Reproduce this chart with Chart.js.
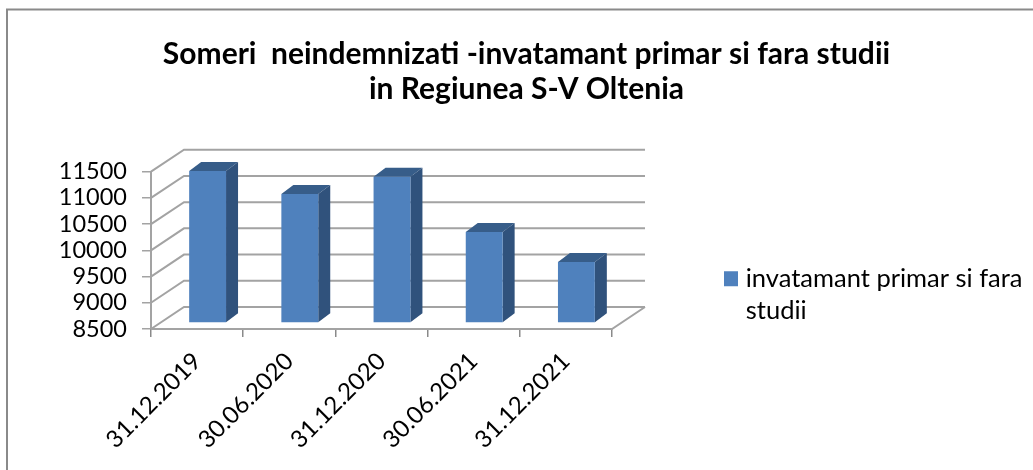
<!DOCTYPE html>
<html><head><meta charset="utf-8">
<style>html,body{margin:0;padding:0;background:#fff;overflow:hidden}
#wrap{position:absolute;left:0;top:0;width:1033px;height:470px}
canvas{display:block;filter:blur(0.45px)}</style>
<script src="https://cdn.jsdelivr.net/npm/chart.js@4/dist/chart.umd.min.js"></script>
</head><body><div id="wrap"><canvas id="c" width="1033" height="470"></canvas></div>
<script>
const categories = ['31.12.2019','30.06.2020','31.12.2020','30.06.2021','31.12.2021'];
const seriesValues = [11400,10958,11287,10236,9665];
const seriesName = ['invatamant primar si fara','studii'];
const titleLines = ['Someri  neindemnizati -invatamant primar si fara studii','in Regiunea S-V Oltenia'];
const yMin = 8500, yMax = 11500, yStep = 500;

const FONT = 'Lato';
const WALL = {dx:33, dy:-22};
const BAR = {dx:12, dy:-9, fx:10.5, fy:-6};
const GRID = '#a3a3a3';

const threeD = {
  id:'threeD',
  beforeLayout(chart){
    const lg = chart.legend;
    if(lg && !lg._patched){
      const f = lg.fit;
      lg.fit = function(){ f.call(this); this.width = 421; };
      lg._patched = true;
    }
  },
  afterLayout(chart){
    const lg = chart.legend;
    lg.left = 724; lg.right = 1033; lg.top = 262; lg.bottom = 335;
    lg.width = 309; lg.height = 73;
    const tb = chart.titleBlock;
    tb.left += 10; tb.right += 10;
  },
  beforeDatasetsDraw(chart){
    const {ctx, scales:{x,y}} = chart;
    const a = chart.chartArea;
    ctx.save();
    ctx.lineCap='butt';
    ctx.strokeStyle = GRID; ctx.lineWidth = 2;
    y.ticks.forEach(t=>{
      const p = y.getPixelForValue(t.value);
      ctx.beginPath();
      ctx.moveTo(a.left, p);
      ctx.lineTo(a.left+WALL.dx, p+WALL.dy);
      ctx.lineTo(a.right+WALL.dx, p+WALL.dy);
      ctx.stroke();
    });
    ctx.beginPath();
    ctx.moveTo(a.left,a.bottom);
    ctx.lineTo(a.right,a.bottom);
    ctx.lineTo(a.right+WALL.dx,a.bottom+WALL.dy);
    ctx.stroke();
    ctx.restore();
  },
  beforeDatasetDraw(chart){
    const {ctx} = chart;
    const meta = chart.getDatasetMeta(0);
    ctx.save();
    ctx.translate(BAR.fx, BAR.fy);
    meta.data.forEach(b=>{
      const l=b.x-b.width/2, r=b.x+b.width/2, t=b.y, m=b.base;
      ctx.fillStyle='#375d89';
      ctx.beginPath();
      ctx.moveTo(l,t);ctx.lineTo(l+BAR.dx,t+BAR.dy);ctx.lineTo(r+BAR.dx,t+BAR.dy);ctx.lineTo(r,t);ctx.closePath();ctx.fill();
      ctx.fillStyle='#30527c';
      ctx.beginPath();
      ctx.moveTo(r,t);ctx.lineTo(r+BAR.dx,t+BAR.dy);ctx.lineTo(r+BAR.dx,m+BAR.dy);ctx.lineTo(r,m);ctx.closePath();ctx.fill();
    });
  },
  afterDatasetDraw(chart){ chart.ctx.restore(); },
  afterDraw(chart){
    const {ctx} = chart;
    ctx.save();
    ctx.strokeStyle='#8a8a8a';
    ctx.lineWidth=2;
    ctx.beginPath();ctx.moveTo(7,470);ctx.lineTo(7,9.5);ctx.lineTo(1033,9.5);ctx.stroke();
    ctx.restore();
  }
};

new Chart(document.getElementById('c'),{
  type:'bar',
  plugins:[threeD],
  data:{labels:categories,datasets:[{label:seriesName,data:seriesValues,base:yMin,backgroundColor:'#4f81bd',categoryPercentage:0.4,barPercentage:1,clip:false}]},
  options:{
    responsive:false,animation:false,
    layout:{padding:{left:0,top:0,right:0,bottom:0}},
    plugins:{
      tooltip:{enabled:false},
      title:{display:true,text:titleLines,color:'#000',font:{family:FONT,size:30,weight:'bold',lineHeight:1.17},padding:{top:37,bottom:64.5}},
      legend:{display:true,position:'right',align:'start',
        labels:{usePointStyle:true,boxWidth:5,boxHeight:15,padding:4,color:'#000',font:{family:FONT,size:25.5,lineHeight:1.25},
          generateLabels(c){return [{text:seriesName,fillStyle:'#4f81bd',strokeStyle:'#4f81bd',lineWidth:0,pointStyle:'rect',datasetIndex:0}];}}}
    },
    scales:{
      x:{grid:{display:true,drawOnChartArea:false,color:'#8a8a8a',tickLength:8,tickColor:'#8a8a8a',lineWidth:1.5},border:{display:false},
        ticks:{color:'#000',font:{family:FONT,size:24},maxRotation:45,minRotation:45,autoSkip:false,padding:10},
        afterFit(s){s.height=141;}},
      y:{min:yMin,max:yMax,grid:{display:true,drawOnChartArea:false,color:'#a3a3a3',tickLength:9,lineWidth:1.5},border:{display:true,color:'#a3a3a3',width:2},
        ticks:{stepSize:yStep,autoSkip:false,color:'#000',font:{family:FONT,size:23.5},padding:15,callback:v=>String(v)},
        afterFit(s){s.width=151;}}
    }
  }
});
</script></body></html>
